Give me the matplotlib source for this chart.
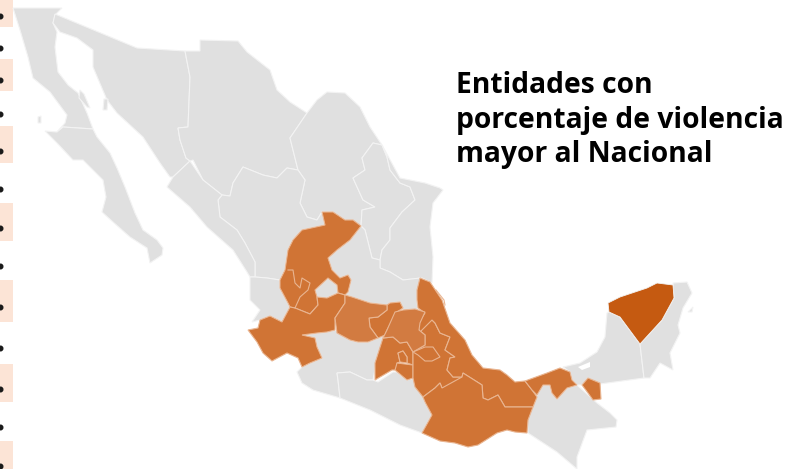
import matplotlib
matplotlib.use("Agg")
import matplotlib.pyplot as plt
from matplotlib.patches import Polygon

# outlines, in image pixels
baja_norte = [(13,8),(62,8),(55,15),(53,23),(57,32),(55,47),(58,72),(68,85),(78,93),(87,113),(93,129),(63,127),(57,132),(65,123),(67,115),(50,92),(33,78),(28,57),(20,30)]
baja_sur = [(45,131),(57,132),(63,127),(93,129),(97,137),(110,153),(117,168),(125,187),(135,213),(143,230),(157,240),(163,248),(162,255),(150,263),(147,248),(130,237),(113,222),(102,212),(106,197),(103,180),(83,160),(73,160),(57,143)]
sonora = [(55,14),(137,48),(185,51),(190,77),(188,127),(178,128),(180,140),(186,158),(190,161),(173,177),(170,177),(160,163),(143,137),(117,113),(107,100),(93,67),(93,50),(77,38),(60,32),(53,23)]
chihuahua = [(185,51),(200,51),(200,40),(238,41),(247,52),(270,70),(277,90),(290,102),(307,113),(290,138),(298,170),(287,168),(277,178),(263,175),(243,167),(233,183),(230,196),(222,195),(203,180),(193,160),(190,161),(186,158),(180,140),(178,128),(188,127),(190,77)]
coahuila = [(307,113),(317,100),(327,92),(345,93),(360,107),(370,127),(382,145),(373,143),(362,158),(365,170),(353,178),(363,200),(375,207),(362,210),(361,226),(345,220),(333,212),(322,212),(317,220),(307,217),(300,203),(305,180),(298,170),(290,138)]
nuevo_leon = [(373,143),(382,145),(387,157),(390,170),(400,183),(410,187),(415,200),(402,212),(390,228),(390,240),(382,250),(380,260),(372,258),(365,230),(361,226),(362,210),(375,207),(363,200),(353,178),(365,170),(362,158)]
tamaulipas = [(382,145),(400,178),(425,183),(440,188),(443,190),(433,203),(430,227),(433,257),(432,283),(422,278),(403,280),(390,272),(380,268),(380,260),(382,250),(390,240),(390,228),(402,212),(415,200),(410,187),(400,183),(390,170),(387,157)]
durango = [(222,195),(230,196),(233,183),(243,167),(263,175),(277,178),(287,168),(298,170),(305,180),(300,203),(307,217),(317,220),(322,212),(325,225),(302,230),(293,240),(288,250),(285,270),(280,280),(267,278),(255,277),(255,262),(245,243),(237,230),(220,217),(218,200)]
sinaloa = [(190,161),(203,180),(222,195),(218,200),(220,217),(237,230),(245,243),(255,262),(255,277),(250,277),(247,272),(233,250),(207,227),(190,207),(167,187),(173,177)]
nayarit = [(250,277),(255,277),(267,278),(280,280),(280,288),(288,303),(290,307),(282,322),(270,316),(260,320),(252,322),(260,310),(250,300)]
aguascalientes = [(315,290),(328,278),(337,285),(338,293),(327,298),(317,297)]
san_luis = [(361,226),(365,230),(372,258),(380,260),(380,268),(390,272),(403,280),(420,278),(417,300),(418,310),(403,310),(400,302),(390,303),(387,305),(370,303),(352,297),(345,295),(348,292),(351,280),(348,275),(340,278),(332,270),(328,258),(337,250),(350,240)]
michoacan = [(302,335),(315,338),(317,347),(322,358),(310,363),(302,367),(297,372),(302,383),(313,390),(340,398),(338,380),(337,373),(350,372),(367,380),(373,380),(377,358),(385,335),(378,338),(368,342),(358,342),(350,340),(335,330),(327,332),(317,333)]
guerrero = [(337,373),(338,380),(340,398),(370,410),(400,425),(422,433),(432,415),(425,402),(423,393),(415,378),(407,380),(397,372),(393,372),(378,382),(373,380),(367,380),(350,372)]
chiapas = [(537,395),(543,385),(550,385),(552,393),(557,399),(567,388),(577,385),(597,403),(610,413),(617,420),(616,427),(587,430),(577,457),(577,469),(557,452),(528,433),(527,420),(533,407)]
campeche = [(607,313),(609,312),(620,317),(640,344),(644,378),(600,384),(588,378),(582,385),(577,385),(572,380),(570,372),(563,367),(580,363),(597,352),(605,337)]
quintana_roo = [(673,283),(687,282),(692,293),(683,308),(678,325),(680,333),(670,353),(673,370),(660,363),(650,378),(644,378),(640,344),(662,320),(674,298)]
cedros = [(38,117),(41,116),(41,123),(38,123)]
angel_guarda = [(80,90),(84,94),(90,108),(87,107),(79,98)]
tiburon = [(104,99),(108,99),(107,110),(103,110)]
cozumel = [(688,312),(693,307),(692,312)]
gray_states = [baja_norte, baja_sur, sonora, chihuahua, coahuila, nuevo_leon, tamaulipas, durango, sinaloa, nayarit, aguascalientes, san_luis, michoacan, guerrero, chiapas, campeche, quintana_roo, cedros, angel_guarda, tiburon, cozumel]
terminos = [(578,367),(590,362),(590,367),(582,370)]

zacatecas = [(322,212),(333,212),(345,220),(353,220),(361,226),(350,240),(337,250),(328,258),(332,270),(340,278),(348,275),(351,280),(348,292),(345,295),(338,293),(337,285),(328,278),(315,290),(317,297),(318,305),(310,314),(295,308),(290,307),(288,303),(280,288),(280,280),(285,270),(288,250),(293,240),(302,230),(325,225)]
jalisco = [(248,330),(258,328),(260,320),(270,316),(282,322),(290,307),(295,308),(310,314),(318,305),(317,297),(327,298),(338,293),(345,295),(345,303),(335,318),(335,330),(327,332),(317,333),(302,335),(315,338),(317,347),(322,358),(310,363),(302,367),(298,358),(287,353),(272,361),(263,353),(257,342)]
mexico_edo = [(383,338),(375,363),(375,380),(392,370),(397,370),(397,363),(400,362),(398,353),(403,351),(407,357),(407,363),(413,365),(413,352),(407,342),(400,343),(393,337)]
df = [(403,351),(398,353),(400,362),(407,363),(407,357)]
morelos = [(397,363),(413,365),(413,378),(407,380),(395,370)]
tlaxcala = [(413,352),(425,347),(433,347),(440,357),(432,361),(425,361),(418,355)]
puebla = [(419,330),(425,322),(432,320),(435,323),(440,333),(450,337),(445,350),(455,357),(450,358),(447,370),(453,377),(462,377),(453,385),(442,388),(440,383),(435,388),(423,397),(415,387),(413,378),(413,352),(425,345),(425,335)]
veracruz = [(420,278),(430,282),(442,300),(450,323),(465,340),(472,355),(483,368),(500,370),(507,375),(515,382),(525,381),(532,390),(537,397),(533,407),(505,407),(498,395),(488,400),(483,398),(482,385),(463,373),(462,377),(453,377),(447,370),(450,358),(455,357),(445,350),(450,337),(440,333),(435,323),(432,320),(420,332),(417,325),(425,313),(418,308),(417,300),(417,290)]
oaxaca = [(423,397),(435,388),(440,383),(442,388),(462,377),(463,373),(482,385),(483,398),(488,400),(498,395),(505,407),(533,407),(528,420),(527,433),(515,432),(507,430),(497,433),(478,445),(468,447),(455,443),(440,441),(422,433),(432,415),(425,402)]
tabasco = [(525,381),(547,373),(560,368),(570,372),(572,380),(577,385),(567,388),(557,399),(552,393),(550,385),(543,385),(537,395),(532,390)]
tabasco_este = [(582,385),(588,378),(600,383),(601,399),(593,400),(588,393)]
queretaro = [(387,305),(390,303),(400,302),(403,308),(397,312),(387,330),(385,335),(378,338),(370,327),(369,318),(378,317),(387,310)]
orange_states = [zacatecas, jalisco, mexico_edo, morelos, puebla, veracruz, oaxaca, tabasco, tabasco_este, queretaro]

guanajuato = [(345,295),(352,297),(370,303),(387,305),(387,310),(378,317),(369,318),(370,327),(378,338),(368,342),(358,342),(350,340),(337,333),(335,318),(345,303)]
hidalgo = [(383,338),(387,330),(395,312),(403,310),(415,309),(425,312),(420,323),(419,330),(425,335),(425,345),(413,352),(407,342),(400,343),(393,337)]
light_states = [guanajuato, hidalgo]
plain_small = [df, tlaxcala]

yucatan = [(608,303),(620,297),(647,288),(657,283),(673,285),(674,298),(662,320),(640,344),(620,317),(609,312)]

# Jalisco arm running into Zacatecas, and the lagoon line off Veracruz
jalisco_arm = [(288,270),(289,270),(293,270),(295,283),(300,288),(302,278),(310,283),(308,290),(300,297),(295,308)]
lagoon = [(436,290),(444,300),(445,305)]

band_top = [0, 59, 126, 203, 280, 364, 441]
band_bottom = [27, 91, 163, 241, 322, 402, 469]
bullet_y = [16, 48, 80, 114, 151, 189, 228, 266, 307, 348, 389, 427, 466]
title_lines = ["Entidades con", "porcentaje de violencia", "mayor al Nacional"]
title_y = [93, 128, 162]

gray = "#E0E0E0"
orange = "#D07435"
light = "#D27B41"
dark = "#C55A11"
peach = "#FCE4D6"
edge = "#E9B591"

fig = plt.figure(figsize=(7.88, 4.69), dpi=100)
ax = fig.add_axes([0, 0, 1, 1])
ax.set_xlim(0, 788)
ax.set_ylim(469, 0)
ax.axis("off")

for top, bottom in zip(band_top, band_bottom):
    ax.axhspan(top, bottom, xmin=0, xmax=13/788, color=peach, lw=0)
ax.scatter([0]*len(bullet_y), bullet_y, s=11, color="#1a1a1a", zorder=3)

for st in gray_states:
    ax.add_patch(Polygon(st, fc=gray, ec="#F3F3F3", lw=0.8))
ax.add_patch(Polygon(terminos, fc="white", ec="none"))
for st in orange_states:
    ax.add_patch(Polygon(st, fc=orange, ec=edge, lw=0.8))
for st in light_states:
    ax.add_patch(Polygon(st, fc=light, ec=edge, lw=0.8))
for st in plain_small:
    ax.add_patch(Polygon(st, fc=orange, ec=edge, lw=0.8))
ax.add_patch(Polygon(yucatan, fc=dark, ec="#F3F3F3", lw=0.6))
ax.plot(*zip(*jalisco_arm), color=edge, lw=0.8)
ax.plot(*zip(*lagoon), color=edge, lw=0.8)

for line, y in zip(title_lines, title_y):
    ax.text(456, y, line, fontsize=20.3, fontweight="bold", family="Open Sans", color="black", va="baseline", ha="left")

fig.savefig("out.png", dpi=100)
